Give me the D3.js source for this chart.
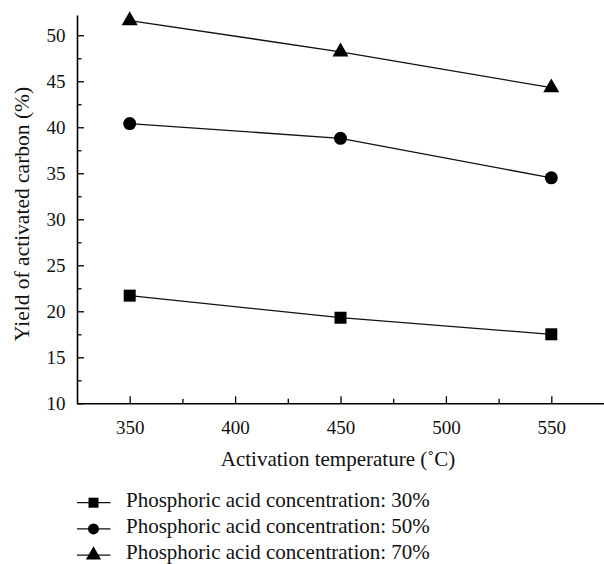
<!DOCTYPE html>
<html>
<head>
<meta charset="utf-8">
<script src="https://cdn.jsdelivr.net/npm/d3@7"></script>
<style>
  body { margin: 0; background: #fff; }
  svg text { font-family: "Liberation Serif", "DejaVu Serif", serif; fill: #111; }
</style>
</head>
<body>
<div id="chart"></div>
<script>
// data
var temps = [350, 450, 550];
var conc30 = [21.7, 19.3, 17.5];
var conc50 = [40.4, 38.8, 34.5];
var conc70 = [51.6, 48.2, 44.3];
var seriesNames = ["Phosphoric acid concentration: 30%",
                   "Phosphoric acid concentration: 50%",
                   "Phosphoric acid concentration: 70%"];
var xTicks = [350, 400, 450, 500, 550];
var yTicks = [10, 15, 20, 25, 30, 35, 40, 45, 50];

var width = 604, height = 564;
var margin = {top: 15, left: 77, right: 0, bottom: 160};

var svg = d3.select("#chart").append("svg")
  .attr("width", width)
  .attr("height", height);

var x = d3.scaleLinear().domain([325, 575]).range([margin.left, width - margin.right]);
var y = d3.scaleLinear().domain([10, 52.2]).range([height - margin.bottom - 0.7, margin.top]);

var series = [
  {name: seriesNames[0], values: conc30, shape: d3.symbolSquare, size: 144, lsize: 100},
  {name: seriesNames[1], values: conc50, shape: d3.symbolCircle, size: 133, lsize: 95},
  {name: seriesNames[2], values: conc70, shape: d3.symbolTriangle, size: 111, lsize: 100}
];

// x axis, ticks point inward
var xAxis = d3.axisBottom(x).tickValues(xTicks).tickSize(-7).tickPadding(17).tickSizeOuter(0);
var gx = svg.append("g")
  .attr("transform", `translate(0,${y(10)})`)
  .call(xAxis);
gx.select(".domain").attr("stroke-width", 1.6);
gx.selectAll(".tick line").attr("stroke-width", 1.3);
gx.selectAll(".tick text").style("font-size", "19px").attr("fill", "#111");
svg.append("g")
  .attr("transform", `translate(0,${y(10)})`)
  .call(d3.axisBottom(x).tickValues([375, 425, 475, 525]).tickSize(-4.5).tickFormat(""))
  .call(g => g.select(".domain").remove())
  .selectAll(".tick line").attr("stroke-width", 1.3);

// y axis
var yAxis = d3.axisLeft(y).tickValues(yTicks).tickSize(-7).tickPadding(11.5).tickSizeOuter(0);
var gy = svg.append("g")
  .attr("transform", `translate(${x(325)},0)`)
  .call(yAxis);
gy.select(".domain").attr("stroke-width", 1.6);
gy.selectAll(".tick line").attr("stroke-width", 1.3);
gy.selectAll(".tick text").style("font-size", "19px").attr("fill", "#111");
svg.append("g")
  .attr("transform", `translate(${x(325)},0)`)
  .call(d3.axisLeft(y).tickValues([12.5, 17.5, 22.5, 27.5, 32.5, 37.5, 42.5, 47.5]).tickSize(-4.5).tickFormat(""))
  .call(g => g.select(".domain").remove())
  .selectAll(".tick line").attr("stroke-width", 1.3);

// axis titles
svg.append("text")
  .attr("x", 338)
  .attr("y", 466)
  .style("text-anchor", "middle")
  .style("font-size", "21px")
  .text("Activation temperature (˚C)");

svg.append("text")
  .attr("transform", "translate(29,214) rotate(-90)")
  .style("text-anchor", "middle")
  .style("font-size", "21.5px")
  .text("Yield of activated carbon (%)");

var line = d3.line()
  .x((d, i) => x(temps[i]))
  .y(d => y(d));

series.forEach(function(s) {
  svg.append("path")
    .datum(s.values)
    .attr("d", line)
    .attr("fill", "none")
    .attr("stroke", "#111")
    .attr("stroke-width", 1.3);
  svg.selectAll(null)
    .data(s.values)
    .enter()
    .append("path")
    .attr("d", d3.symbol().type(s.shape).size(s.size))
    .attr("transform", (d, i) => `translate(${x(temps[i])},${y(d)})`)
    .attr("fill", "#000");
});

// legend
var legend = svg.append("g");
series.forEach(function(s, i) {
  var base = 506.7 + i * 26.2;
  var ly = base - 4;
  legend.append("line")
    .attr("x1", 77).attr("x2", 110.5)
    .attr("y1", ly).attr("y2", ly)
    .attr("stroke", "#111").attr("stroke-width", 1.3);
  legend.append("path")
    .attr("d", d3.symbol().type(s.shape).size(s.lsize))
    .attr("transform", `translate(93.5,${ly})`)
    .attr("fill", "#000");
  legend.append("text")
    .attr("x", 126)
    .attr("y", base)
    .style("font-size", "21px")
    .text(s.name);
});
</script>
</body>
</html>
